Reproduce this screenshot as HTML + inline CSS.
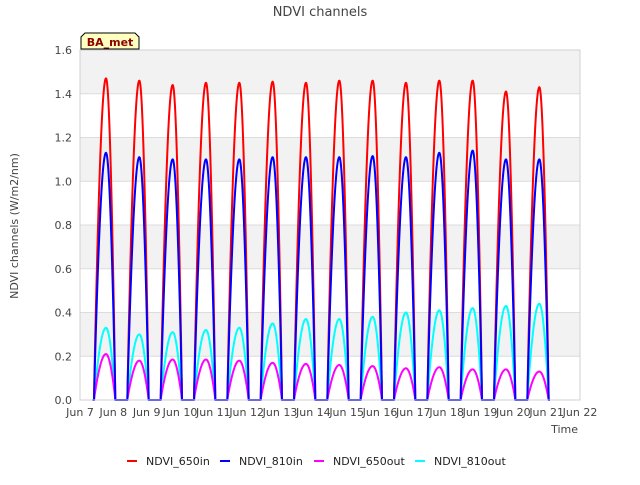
<!DOCTYPE html>
<html><head><meta charset="utf-8"><style>
body{margin:0;background:#fff;font-family:"Liberation Sans","DejaVu Sans",sans-serif;}
text{font-family:"DejaVu Sans","Liberation Sans",sans-serif;}
</style></head><body>
<svg id="chart" width="640" height="480">
<text x="320" y="16" text-anchor="middle" font-size="13" fill="#444">NDVI channels</text>
<g id="bands"></g><g id="grid"></g><g id="series"></g><g id="axes"></g>
<g>
<path d="M81,49 L81,37 L85,33 L135,33 L139,37 L139,49 Z" fill="#ffffc0" stroke="#000" stroke-width="1"/>
<text x="110" y="46" text-anchor="middle" font-size="11" font-weight="bold" fill="#8b0000">BA_met</text>
</g>
<text transform="translate(18,226) rotate(-90)" text-anchor="middle" font-size="11" fill="#444">NDVI channels (W/m2/nm)</text>
<text x="578" y="433" text-anchor="end" font-size="11" fill="#444">Time</text>
<g id="legend"></g>
</svg>
<script>
const days=[7,8,9,10,11,12,13,14,15,16,17,18,19,20];
const peak650in=[1.47,1.46,1.44,1.45,1.45,1.455,1.45,1.46,1.46,1.45,1.46,1.46,1.41,1.43];
const peak810in=[1.13,1.11,1.10,1.10,1.10,1.11,1.11,1.11,1.115,1.11,1.13,1.14,1.10,1.10];
const peak650out=[0.21,0.18,0.185,0.185,0.18,0.17,0.165,0.16,0.155,0.145,0.15,0.14,0.14,0.13];
const peak810out=[0.33,0.30,0.31,0.32,0.33,0.35,0.37,0.37,0.38,0.40,0.41,0.42,0.43,0.44];
const yTicks=[0,0.2,0.4,0.6,0.8,1.0,1.2,1.4,1.6];
const xTicks=["Jun 7","Jun 8","Jun 9","Jun 10","Jun 11","Jun 12","Jun 13","Jun 14","Jun 15","Jun 16","Jun 17","Jun 18","Jun 19","Jun 20","Jun 21","Jun 22"];
const L=80,R=580,T=50,B=400;
const X=d=>L+(d-7)/15*(R-L);
const Y=v=>B-v/1.6*(B-T);
const NS="http://www.w3.org/2000/svg";
function mk(tag,attrs,parent){const e=document.createElementNS(NS,tag);for(const k in attrs)e.setAttribute(k,attrs[k]);parent.appendChild(e);return e;}
const bands=document.getElementById('bands'),grid=document.getElementById('grid'),axes=document.getElementById('axes'),series=document.getElementById('series'),legend=document.getElementById('legend');
mk('rect',{x:L,y:T,width:R-L,height:B-T,fill:'#fff'},bands);
for(let i=0;i<yTicks.length-1;i++){if(i%2===1){const r=mk('rect',{x:L,y:Y(yTicks[i+1]),width:R-L,height:Y(yTicks[i])-Y(yTicks[i+1]),fill:'#f2f2f2'},bands);

}}
yTicks.forEach(v=>{mk('line',{x1:L,x2:R,y1:Y(v),y2:Y(v),stroke:'#dcdcdc'},grid);
const t=mk('text',{x:L-8,y:Y(v)+4,'text-anchor':'end','font-size':11,fill:'#444'},axes);t.textContent=v.toFixed(1);

});
xTicks.forEach((s,i)=>{const t=mk('text',{x:X(7+i),y:416,'text-anchor':'middle','font-size':11,fill:'#444'},axes);t.textContent=s;

});
mk('rect',{x:L,y:T,width:R-L,height:B-T,fill:'none',stroke:'#d0d0d0'},axes);
function shape(f){const s=0.42,e=1.06,p=0.78;if(f<=s||f>=e)return 0;
const u=f<p?(f-s)/(p-s):(e-f)/(e-p);return Math.sin(u*Math.PI/2);}
function draw(peaks,color,name){let d='';
const x0=days[0]+0.4;d+='M'+X(x0)+','+Y(0);
days.forEach((day,i)=>{for(let k=0;k<=70;k++){const f=0.4+k*0.01;const v=peaks[i]*Math.pow(shape(f),0.9);d+=' L'+X(day+f).toFixed(2)+','+Y(v).toFixed(2);}});
const p=mk('path',{d:d,fill:'none',stroke:color,'stroke-width':2,'stroke-linejoin':'round'},series);

}
draw(peak650in,'#ff0000','series-ndvi-650in');
draw(peak810out,'#00ffff','series-ndvi-810out');
draw(peak650out,'#ff00ff','series-ndvi-650out');
draw(peak810in,'#0000ff','series-ndvi-810in');
const leg=[['NDVI_650in','#ff0000',127],['NDVI_810in','#0000ff',220],['NDVI_650out','#ff00ff',314],['NDVI_810out','#00ffff',415]];
leg.forEach(([n,c,x])=>{const g=mk('g',{},legend);


mk('line',{x1:x,x2:x+10,y1:461,y2:461,stroke:c,'stroke-width':2},g);
const t=mk('text',{x:x+19,y:465,'font-size':11,fill:'#222'},g);t.textContent=n;});
</script>
</body></html>
